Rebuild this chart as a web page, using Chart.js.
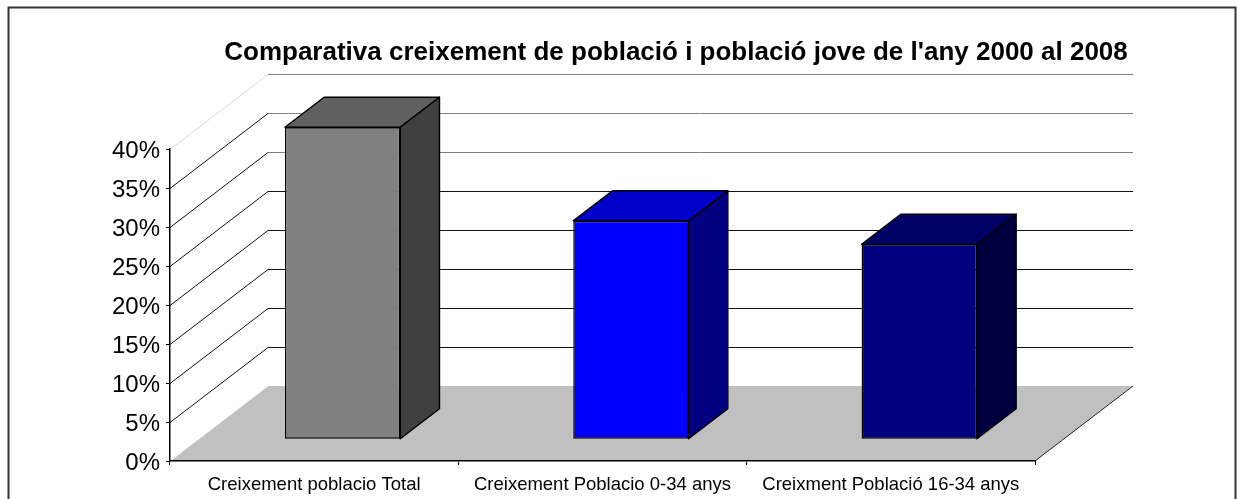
<!DOCTYPE html>
<html>
<head>
<meta charset="utf-8">
<script src="https://cdn.jsdelivr.net/npm/chart.js@4.4.1/dist/chart.umd.min.js"></script>
<style>
  html, body { margin: 0; padding: 0; background: #fff; }
  canvas { display: block; }
</style>
</head>
<body>
<canvas id="chart" width="1239" height="499"></canvas>
<script>
const title = "Comparativa creixement de població i població jove de l'any 2000 al 2008";
const categories = ["Creixement poblacio Total", "Creixement Poblacio 0-34 anys", "Creixment Població 16-34 anys"];
const values = [40, 28, 25];
const yTickValues = [0, 5, 10, 15, 20, 25, 30, 35, 40];

const frontColors = ["#808080", "#0000FF", "#000080"];
const topColors = ["#606060", "#0000C8", "#000066"];
const sideColors = ["#404040", "#000080", "#000040"];

const FONT = "'Liberation Sans', Arial, sans-serif";
// depth of the 3d box (floor / walls) and of the bars
const DEPTH_X = 98, DEPTH_Y = -75;
const BAR_SHIFT = 0.29, BAR_DEPTH = 0.4;

const threeD = {
  id: "threeD",
  beforeDraw(chart) {
    const ctx = chart.ctx;
    const a = chart.chartArea;
    const y = chart.scales.y;

    ctx.save();
    // outer frame
    ctx.strokeStyle = "#333";
    ctx.lineWidth = 2;
    ctx.strokeRect(8.5, 7.5, 1227, 600);

    // title
    ctx.fillStyle = "#000";
    ctx.font = "bold 26px " + FONT;
    ctx.textAlign = "center";
    ctx.textBaseline = "alphabetic";
    ctx.fillText(title, 676, 60);

    // side wall + back wall grid lines
    ctx.lineWidth = 1;
    yTickValues.forEach((v) => {
      if (v === 0) return;
      const py = Math.round(y.getPixelForValue(v)) + 0.5;
      const top = v === yTickValues[yTickValues.length - 1];
      ctx.strokeStyle = top ? "#d8d8d8" : "#111";
      ctx.beginPath();
      ctx.moveTo(a.left, py);
      ctx.lineTo(a.left + DEPTH_X, py + DEPTH_Y);
      ctx.stroke();
      ctx.strokeStyle = v >= 30 ? "#808080" : "#111";
      ctx.beginPath();
      ctx.moveTo(a.left + DEPTH_X, py + DEPTH_Y);
      ctx.lineTo(a.right + DEPTH_X, py + DEPTH_Y);
      ctx.stroke();
    });

    // floor
    const b = a.bottom;
    ctx.fillStyle = "#C0C0C0";
    ctx.beginPath();
    ctx.moveTo(a.left, b);
    ctx.lineTo(a.right, b);
    ctx.lineTo(a.right + DEPTH_X, b + DEPTH_Y);
    ctx.lineTo(a.left + DEPTH_X, b + DEPTH_Y);
    ctx.closePath();
    ctx.fill();
    ctx.strokeStyle = "#222";
    ctx.beginPath();
    ctx.moveTo(a.right, b);
    ctx.lineTo(a.right + DEPTH_X, b + DEPTH_Y);
    ctx.stroke();
    ctx.strokeStyle = "#f4f4f4";
    ctx.beginPath();
    ctx.moveTo(a.left, b);
    ctx.lineTo(a.left + DEPTH_X, b + DEPTH_Y);
    ctx.stroke();
    ctx.restore();
  },
  beforeDatasetsDraw(chart) {
    chart.ctx.save();
    chart.ctx.translate(DEPTH_X * BAR_SHIFT, DEPTH_Y * BAR_SHIFT);
  },
  afterDatasetsDraw(chart) {
    const ctx = chart.ctx;
    const dx = DEPTH_X * BAR_DEPTH, dy = DEPTH_Y * BAR_DEPTH;
    ctx.lineWidth = 1.5;
    ctx.strokeStyle = "#000";
    ctx.lineJoin = "round";
    chart.getDatasetMeta(0).data.forEach((bar, i) => {
      const p = bar.getProps(["x", "y", "base", "width"], true);
      const l = p.x - p.width / 2, r = p.x + p.width / 2;
      // top face
      ctx.fillStyle = topColors[i];
      ctx.beginPath();
      ctx.moveTo(l, p.y);
      ctx.lineTo(l + dx, p.y + dy);
      ctx.lineTo(r + dx, p.y + dy);
      ctx.lineTo(r, p.y);
      ctx.closePath();
      ctx.fill();
      ctx.stroke();
      // side face
      ctx.fillStyle = sideColors[i];
      ctx.beginPath();
      ctx.moveTo(r, p.y);
      ctx.lineTo(r + dx, p.y + dy);
      ctx.lineTo(r + dx, p.base + dy);
      ctx.lineTo(r, p.base);
      ctx.closePath();
      ctx.fill();
      ctx.stroke();
    });
    ctx.restore();
  }
};

new Chart(document.getElementById("chart"), {
  type: "bar",
  data: {
    labels: categories,
    datasets: [
      {
        data: values,
        backgroundColor: frontColors,
        borderColor: "#000",
        borderWidth: 1.5,
        borderSkipped: false,
        categoryPercentage: 1,
        barPercentage: 0.4,
        clip: false,
      },
    ],
  },
  options: {
    responsive: false,
    animation: false,
    events: [],
    layout: {
      padding: { top: 149, right: 204, bottom: 0, left: 0 },
    },
    plugins: {
      legend: { display: false },
      tooltip: { enabled: false },
    },
    scales: {
      x: {
        afterFit(scale) {
          scale.height = 38;
        },
        grid: { drawOnChartArea: false, color: "#000", tickLength: 4 },
        border: { color: "#000", width: 1.5 },
        ticks: {
          color: "#000",
          font: { family: FONT, size: 18.5 },
          padding: 9,
          maxRotation: 0,
          autoSkip: false,
        },
      },
      y: {
        min: 0,
        max: 40,
        afterFit(scale) {
          scale.width = 170;
        },
        afterBuildTicks(scale) {
          scale.ticks = yTickValues.map((v) => ({ value: v }));
        },
        grid: { drawOnChartArea: false, color: "#000", tickLength: 4 },
        border: { color: "#000", width: 1.5 },
        ticks: {
          color: "#000",
          font: { family: FONT, size: 24 },
          padding: 6,
          labelOffset: 2,
          callback: (v) => v + "%",
        },
      },
    },
  },
  plugins: [threeD],
});
</script>
</body>
</html>
